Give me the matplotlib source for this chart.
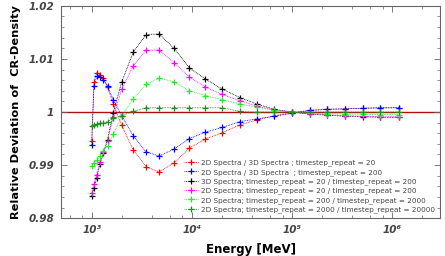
import matplotlib
matplotlib.use("Agg")
import matplotlib.pyplot as plt
import numpy as np

# energy grid [MeV]
energy = [993, 1047, 1114, 1202, 1303, 1429, 1633, 1982, 2588, 3467, 4677, 6607,
          9397, 13580, 20090, 30200, 44360, 66530, 99310, 148900, 222300, 336500,
          509300, 758600, 1156000]

red = [0.9945, 1.0057, 1.0074, 1.0070, 1.0064, 1.0047, 1.0015, 0.9975, 0.9928, 0.9897,
       0.9887, 0.9904, 0.9932, 0.9949, 0.9961, 0.9976, 0.9985, 0.9993, 0.99985, 1.0003,
       1.0005, 1.0006, 1.0007, 1.0008, 1.0008]
blue = [0.9938, 1.0049, 1.0067, 1.0066, 1.0060, 1.0049, 1.0023, 0.9993, 0.9955, 0.9925,
        0.9917, 0.9930, 0.9950, 0.9962, 0.9971, 0.9982, 0.9987, 0.9992, 0.99975, 1.0003,
        1.0005, 1.0006, 1.0007, 1.0008, 1.0008]
black = [0.9842, 0.9856, 0.9876, 0.9902, 0.9923, 0.9948, 0.99987, 1.0057, 1.0113, 1.0146,
         1.0147, 1.0120, 1.0083, 1.0062, 1.0043, 1.0027, 1.0015, 1.0005, 1.0000, 0.9996,
         0.9994, 0.9992, 0.9991, 0.9990, 0.9990]
magenta = [0.9848, 0.9864, 0.9882, 0.9905, 0.9925, 0.9946, 0.9990, 1.0043, 1.0087, 1.0116,
           1.0117, 1.0093, 1.0066, 1.0047, 1.0033, 1.0021, 1.0011, 1.0004, 1.0000, 0.9997,
           0.9995, 0.9993, 0.9992, 0.9991, 0.9991]
lgreen = [0.9898, 0.9904, 0.9909, 0.9917, 0.9926, 0.9935, 0.9958, 0.9993, 1.0025, 1.0052,
          1.0064, 1.0057, 1.0040, 1.0031, 1.0023, 1.0015, 1.0009, 1.0003, 1.0000, 0.9998,
          0.9997, 0.9996, 0.9996, 0.9995, 0.9995]
dgreen = [0.9974, 0.9976, 0.9977, 0.9979, 0.9980, 0.9982, 0.9988, 0.9993, 1.0001, 1.0008,
          1.0008, 1.0008, 1.0008, 1.0008, 1.0008, 1.0001, 1.0000, 1.0000, 1.0000, 1.0000,
          1.0000, 1.0000, 1.0000, 1.0000, 1.0000]

labels = ["2D Spectra / 3D Spectra ; timestep_repeat = 20",
          "2D Spectra / 3D Spectra  ; timestep_repeat = 200",
          "3D Spectra; timestep_repeat = 20 / timestep_repeat = 200",
          "2D Spectra; timestep_repeat = 20 / timestep_repeat = 200",
          "2D Spectra; timestep_repeat = 200 / timestep_repeat = 2000",
          "2D Spectra; timestep_repeat = 2000 / timestep_repeat = 20000"]
colors = ["#ff0000", "#0000ff", "#000000", "#ff00ff", "#22ee22", "#1f8f1f"]
series = [red, blue, black, magenta, lgreen, dgreen]

fig = plt.figure(figsize=(4.45, 2.56), dpi=100)
ax = fig.add_axes([0.137, 0.148, 0.852, 0.829])

ax.axhline(1.0, color="#b01010", lw=1.0, zorder=1)
for vals, c, lab in zip(series, colors, labels):
    ax.plot(energy, vals, ls=(0, (1, 1)), lw=0.6, color=c, marker="+",
            markersize=5, mew=0.9, label=lab, zorder=2)

ax.set_xscale("log")
ax.set_xlim(490, 3.0e6)
ax.set_ylim(0.98, 1.02)

ax.set_xticks([1e3, 1e4, 1e5, 1e6])
ax.set_xticklabels(["10³", "10⁴", "10⁵", "10⁶"])
ax.xaxis.set_minor_locator(matplotlib.ticker.LogLocator(base=10, subs=[2, 4, 6, 8]))
ax.xaxis.set_minor_formatter(matplotlib.ticker.NullFormatter())
ax.set_yticks([0.98, 0.99, 1.0, 1.01, 1.02])
ax.set_yticklabels(["0.98", "0.99", "1", "1.01", "1.02"])
ax.yaxis.set_minor_locator(matplotlib.ticker.MultipleLocator(0.002))

ax.tick_params(which="both", direction="in", top=True, right=True, colors="#666666")
ax.tick_params(which="major", length=4, width=0.6, labelsize=7.5, labelcolor="#444444", pad=5)
ax.tick_params(which="minor", length=2, width=0.5)
for lbl in ax.get_xticklabels() + ax.get_yticklabels():
    lbl.set_fontweight("bold")
    lbl.set_fontstyle("italic")
for sp in ax.spines.values():
    sp.set_color("#666666")
    sp.set_linewidth(0.8)

ax.set_xlabel("Energy [MeV]", fontsize=8.5, fontweight="bold", labelpad=6)
ax.set_ylabel("Relative Deviation of  CR-Density", fontsize=8.2, fontweight="bold", labelpad=5)

leg = ax.legend(loc="lower right", bbox_to_anchor=(1.0, 0.0), fontsize=5.2, frameon=False,
                handlelength=2.0, handletextpad=0.4, labelspacing=0.35, borderaxespad=0.3)
for t in leg.get_texts():
    t.set_color("#444444")

fig.savefig("out.png", dpi=100)
